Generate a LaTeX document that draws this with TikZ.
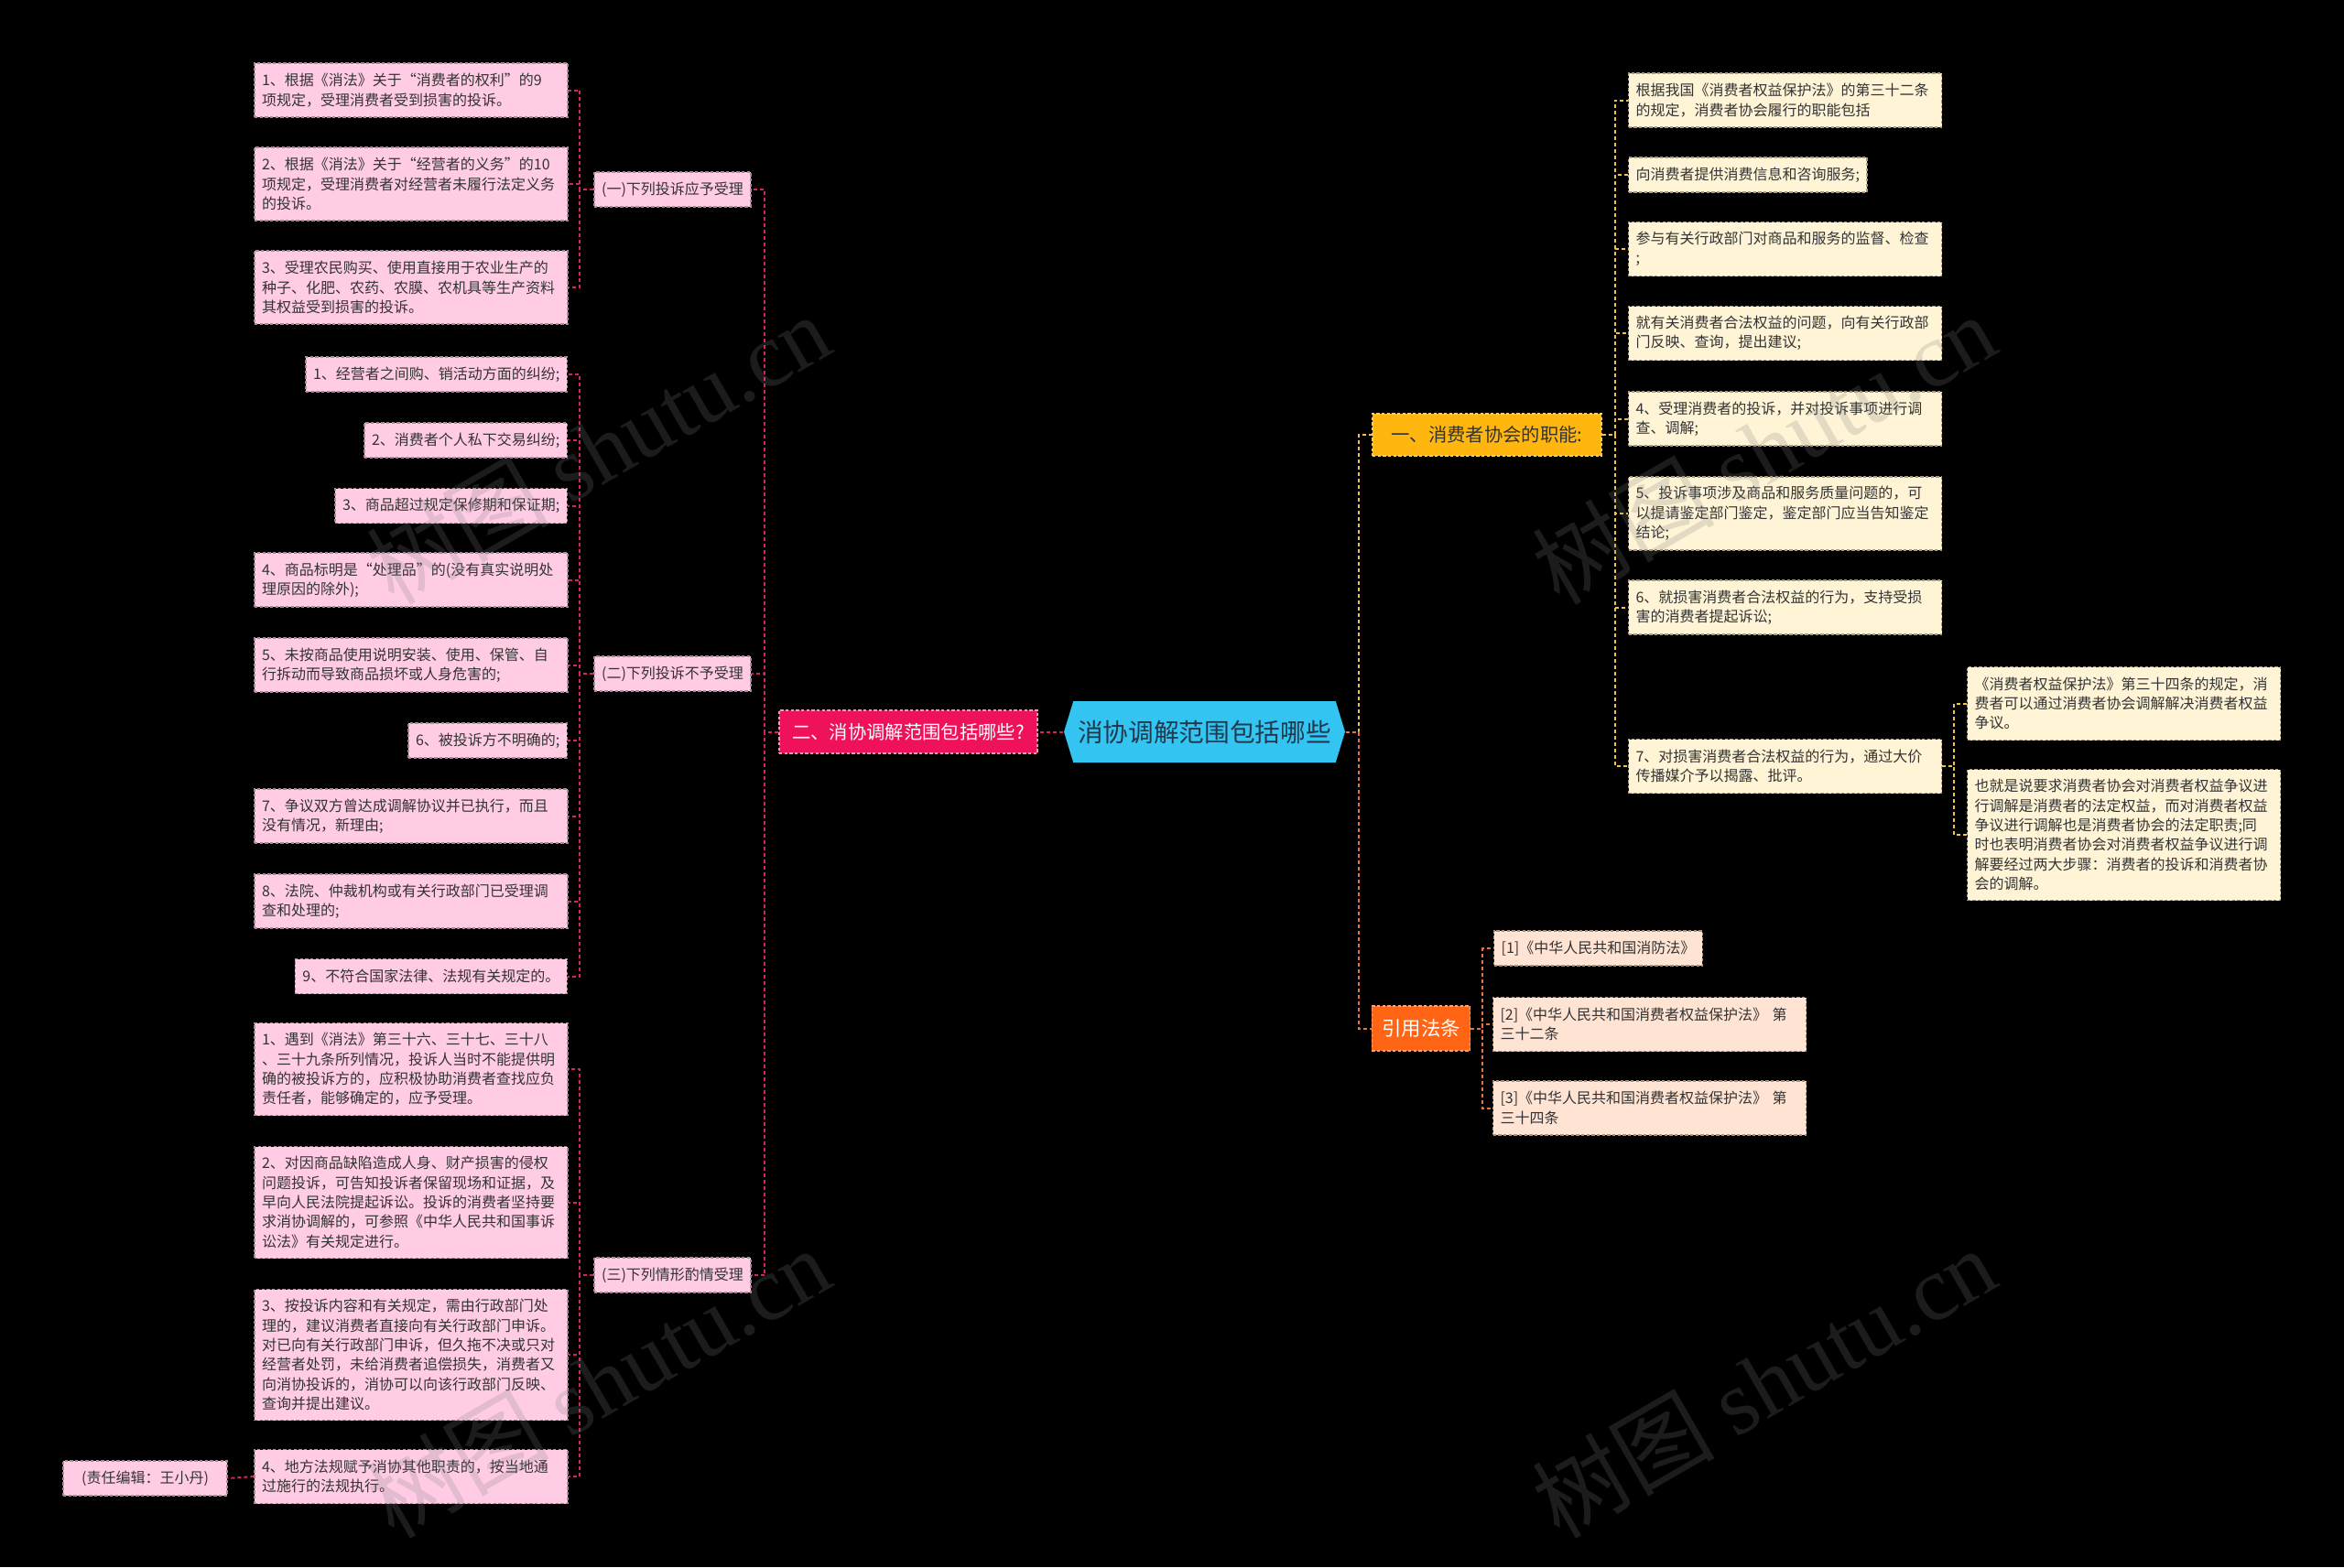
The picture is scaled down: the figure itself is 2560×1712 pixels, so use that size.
\documentclass[tikz,border=0pt]{standalone}
\usepackage{fontspec}
\setmainfont{Noto Sans CJK SC}
\newfontfamily\wmserif{Liberation Serif}
\usetikzlibrary{shapes.symbols}
\definecolor{pinkf}{HTML}{FFCCE4}
\definecolor{pinkb}{HTML}{A8899A}
\definecolor{creamf}{HTML}{FFF4D6}
\definecolor{creamb}{HTML}{A89C80}
\definecolor{peachf}{HTML}{FFE3D3}
\definecolor{peachb}{HTML}{A8907F}
\definecolor{txt}{HTML}{333333}
\definecolor{crim}{HTML}{D7245E}
\definecolor{yel}{HTML}{F2C244}
\definecolor{ora}{HTML}{E8733A}
\definecolor{magf}{HTML}{F0115B}
\definecolor{goldf}{HTML}{FFB710}
\definecolor{oraf}{HTML}{FF6515}
\definecolor{cyanf}{HTML}{33C4F2}
\definecolor{navy}{HTML}{1E3A4C}
\newcommand\tzsmall{\fontsize{4.8pt}{6.4pt}\selectfont}
\newcommand\tzbranch{\fontsize{6.1pt}{7pt}\selectfont}
\newcommand\tzroot{\fontsize{8.3pt}{9pt}\selectfont}
\tikzset{
  boxbase/.style={font=\tzsmall, text=txt, inner xsep=2.4pt, inner ysep=0pt,
    dashed, dash pattern=on 1pt off 0.7pt, line width=0.4pt},
  pk/.style={boxbase, fill=pinkf, draw=pinkb},
  cr/.style={boxbase, fill=creamf, draw=creamb},
  pe/.style={boxbase, fill=peachf, draw=peachb},
  wide/.style={text width=97.8pt, align=left},
  hA/.style={minimum height=11.4pt},
  hB/.style={minimum height=17.7pt},
  hC/.style={minimum height=24pt},
  hD/.style={minimum height=30.3pt},
  hE/.style={minimum height=36.6pt},
  hF/.style={minimum height=42.9pt},
  conn/.style={dashed, dash pattern=on 1.2pt off 0.9pt, line width=0.6pt},
  lc/.style={conn, draw=crim},
  yc/.style={conn, draw=yel},
  oc/.style={conn, draw=ora},
  wm/.style={text=gray, text opacity=0.22, font=\fontsize{30pt}{30pt}\selectfont, rotate=30}
}
\begin{document}
\begin{tikzpicture}[x=0.3pt,y=-0.3pt]
\fill[black] (0,0) rectangle (2560,1712);
\useasboundingbox (0,0) rectangle (2560,1712);

% root and branches
\node[signal, signal to=east and west, signal pointer angle=146, fill=cyanf,
  minimum width=92.1pt, minimum height=20.1pt, inner xsep=1pt, font=\tzroot, text=navy]
  (root) at (1315.5,799.5) {消协调解范围包括哪些};
\node[fill=magf, draw=pinkf!70!magf, dashed, dash pattern=on 1pt off 0.7pt, line width=0.4pt,
  minimum width=84.6pt, minimum height=14.1pt, font=\tzbranch, text=white]
  (br2) at (992,799.5) {二、消协调解范围包括哪些?};
\node[fill=goldf, draw=goldf!70!white, dashed, dash pattern=on 1pt off 0.7pt, line width=0.4pt,
  minimum width=75pt, minimum height=13.8pt, font=\tzbranch, text=txt]
  (br1) at (1624,475) {一、消费者协会的职能:};
\node[fill=oraf, draw=oraf!60!white, dashed, dash pattern=on 1pt off 0.7pt, line width=0.4pt,
  minimum width=31.8pt, minimum height=14.7pt, font=\fontsize{6.4pt}{7pt}\selectfont, text=white]
  (br3) at (1552,1123.5) {引用法条};

% left: level 2
\node[pk, hA] (i1) at (734.5,207) {(一)下列投诉应予受理};
\node[pk, hA] (i2) at (734.5,736) {(二)下列投诉不予受理};
\node[pk, hA] (i3) at (734.5,1393) {(三)下列情形酌情受理};

% group 1
\node[pk, wide, hB] (a1) at (449,98.5) {1、根据《消法》关于“消费者的权利”的9\\项规定，受理消费者受到损害的投诉。};
\node[pk, wide, hC] (a2) at (449,201) {2、根据《消法》关于“经营者的义务”的10\\项规定，受理消费者对经营者未履行法定义务\\的投诉。};
\node[pk, wide, hC] (a3) at (449,314) {3、受理农民购买、使用直接用于农业生产的\\种子、化肥、农药、农膜、农机具等生产资料\\其权益受到损害的投诉。};

% group 2
\node[pk, hA, anchor=east] (b1) at (620,409) {1、经营者之间购、销活动方面的纠纷;};
\node[pk, hA, anchor=east] (b2) at (620,481) {2、消费者个人私下交易纠纷;};
\node[pk, hA, anchor=east] (b3) at (620,552.5) {3、商品超过规定保修期和保证期;};
\node[pk, wide, hB] (b4) at (449,633.5) {4、商品标明是“处理品”的(没有真实说明处\\理原因的除外);};
\node[pk, wide, hB] (b5) at (449,726.5) {5、未按商品使用说明安装、使用、保管、自\\行拆动而导致商品损坏或人身危害的;};
\node[pk, hA, anchor=east] (b6) at (620,809) {6、被投诉方不明确的;};
\node[pk, wide, hB] (b7) at (449,891.5) {7、争议双方曾达成调解协议并已执行，而且\\没有情况，新理由;};
\node[pk, wide, hB] (b8) at (449,984.5) {8、法院、仲裁机构或有关行政部门已受理调\\查和处理的;};
\node[pk, hA, anchor=east] (b9) at (620,1066.5) {9、不符合国家法律、法规有关规定的。};

% group 3
\node[pk, wide, hD] (c1) at (449,1168) {1、遇到《消法》第三十六、三十七、三十八\\、三十九条所列情况，投诉人当时不能提供明\\确的被投诉方的，应积极协助消费者查找应负\\责任者，能够确定的，应予受理。};
\node[pk, wide, hE] (c2) at (449,1313.5) {2、对因商品缺陷造成人身、财产损害的侵权\\问题投诉，可告知投诉者保留现场和证据，及\\早向人民法院提起诉讼。投诉的消费者坚持要\\求消协调解的，可参照《中华人民共和国事诉\\讼法》有关规定进行。};
\node[pk, wide, hF] (c3) at (449,1480) {3、按投诉内容和有关规定，需由行政部门处\\理的，建议消费者直接向有关行政部门申诉。\\对已向有关行政部门申诉，但久拖不决或只对\\经营者处罚，未给消费者追偿损失，消费者又\\向消协投诉的，消协可以向该行政部门反映、\\查询并提出建议。};
\node[pk, wide, hB] (c4) at (449,1613) {4、地方法规赋予消协其他职责的，按当地通\\过施行的法规执行。};
\node[pk, hA, minimum width=53.7pt] (ed) at (158.5,1615) {(责任编辑：王小丹)};

% right: functions
\node[cr, wide, hB] (r1) at (1949.5,109.5) {根据我国《消费者权益保护法》的第三十二条\\的规定，消费者协会履行的职能包括};
\node[cr, hA, anchor=west] (r2) at (1778,191) {向消费者提供消费信息和咨询服务;};
\node[cr, wide, hB] (r3) at (1949.5,272) {参与有关行政部门对商品和服务的监督、检查\\;};
\node[cr, wide, hB] (r4) at (1949.5,364) {就有关消费者合法权益的问题，向有关行政部\\门反映、查询，提出建议;};
\node[cr, wide, hB] (r5) at (1949.5,457.5) {4、受理消费者的投诉，并对投诉事项进行调\\查、调解;};
\node[cr, wide, hC] (r6) at (1949.5,561) {5、投诉事项涉及商品和服务质量问题的，可\\以提请鉴定部门鉴定，鉴定部门应当告知鉴定\\结论;};
\node[cr, wide, hB] (r7) at (1949.5,663.5) {6、就损害消费者合法权益的行为，支持受损\\害的消费者提起诉讼;};
\node[cr, wide, hB] (r8) at (1949.5,837) {7、对损害消费者合法权益的行为，通过大价\\传播媒介予以揭露、批评。};
\node[cr, wide, hC] (s1) at (2319.5,768.5) {《消费者权益保护法》第三十四条的规定，消\\费者可以通过消费者协会调解解决消费者权益\\争议。};
\node[cr, wide, hF] (s2) at (2319.5,912) {也就是说要求消费者协会对消费者权益争议进\\行调解是消费者的法定权益，而对消费者权益\\争议进行调解也是消费者协会的法定职责;同\\时也表明消费者协会对消费者权益争议进行调\\解要经过两大步骤：消费者的投诉和消费者协\\会的调解。};

% right: references
\node[pe, hA, anchor=west] (l1) at (1631,1036) {[1]《中华人民共和国消防法》};
\node[pe, wide, hB] (l2) at (1801.5,1119) {[2]《中华人民共和国消费者权益保护法》 第\\三十二条};
\node[pe, wide, hB] (l3) at (1801.5,1210.5) {[3]《中华人民共和国消费者权益保护法》 第\\三十四条};

% connectors
\draw[lc] (root.west) -- (br2.east);
\foreach \c in {i1,i2,i3} \draw[lc] (br2.west) -- ++(-15,0) |- (\c.east);
\foreach \c in {a1,a2,a3} \draw[lc] (i1.west) -- ++(-15,0) |- (\c.east);
\foreach \c in {b1,b2,b3,b4,b5,b6,b7,b8,b9} \draw[lc] (i2.west) -- ++(-15,0) |- (\c.east);
\foreach \c in {c1,c2,c3,c4} \draw[lc] (i3.west) -- ++(-15,0) |- (\c.east);
\draw[lc] (c4.west) -- (ed.east);

\draw[yc] (root.east) -- ++(14,0) |- (br1.west);
\draw[oc] (root.east) -- ++(14,0) |- (br3.west);
\foreach \c in {r1,r2,r3,r4,r5,r6,r7,r8} \draw[yc] (br1.east) -- ++(14,0) |- (\c.west);
\foreach \c in {s1,s2} \draw[yc] (r8.east) -- ++(13,0) |- (\c.west);
\foreach \c in {l1,l2,l3} \draw[oc] (br3.east) -- ++(13,0) |- (\c.west);

% watermarks
\node[wm] (wm1) at (653,490) {树图 {\wmserif shutu.cn}};
\node[wm] (wm2) at (1926,490) {树图 {\wmserif shutu.cn}};
\node[wm] (wm3) at (653,1510) {树图 {\wmserif shutu.cn}};
\node[wm] (wm4) at (1926,1510) {树图 {\wmserif shutu.cn}};
\end{tikzpicture}
\end{document}
